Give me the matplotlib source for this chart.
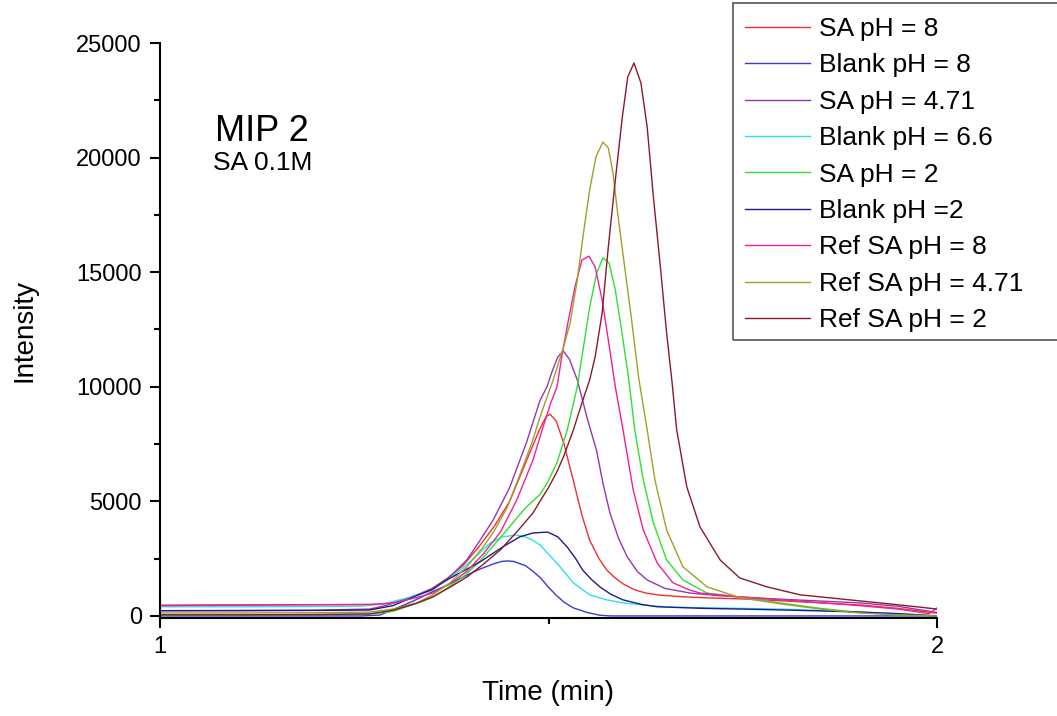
import matplotlib
matplotlib.use("Agg")
import matplotlib.pyplot as plt
from matplotlib.patches import Rectangle
from matplotlib.ticker import MultipleLocator

plt.rcParams['font.family'] = ['Liberation Sans', 'DejaVu Sans']

# Chromatogram traces: retention time (min) and detector intensity
sa_ph8_t = [1.00, 1.10, 1.20, 1.28, 1.30, 1.326, 1.35, 1.37, 1.39, 1.41, 1.43, 1.45, 1.472, 1.488,
            1.497, 1.502, 1.51, 1.52, 1.532, 1.543, 1.553, 1.565, 1.575, 1.586, 1.596, 1.61, 1.625,
            1.64, 1.67, 1.704, 1.75, 1.80, 1.85, 1.90, 1.95, 2.00]
sa_ph8_i = [470, 480, 490, 500, 580, 850, 1200, 1650, 2200, 3000, 3900, 5000, 6800, 8100,
            8700, 8800, 8500, 7500, 5900, 4400, 3300, 2500, 2000, 1650, 1400, 1150, 1000,
            920, 840, 790, 740, 660, 570, 480, 330, 120]

blank_ph8_t = [1.00, 1.10, 1.20, 1.26, 1.283, 1.305, 1.326, 1.347, 1.37, 1.39, 1.41, 1.429, 1.44,
               1.447, 1.455, 1.47, 1.48, 1.49, 1.50, 1.51, 1.52, 1.532, 1.55, 1.566, 1.58, 1.70, 2.00]
blank_ph8_i = [0, 0, 0, 0, 40, 350, 650, 1000, 1350, 1700, 2020, 2270, 2380,
               2400, 2380, 2200, 1950, 1650, 1250, 900, 600, 350, 150, 30, 0, 0, 0]

sa_ph471_t = [1.00, 1.10, 1.20, 1.27, 1.29, 1.309, 1.33, 1.351, 1.373, 1.395, 1.41, 1.429, 1.45,
              1.472, 1.489, 1.498, 1.505, 1.512, 1.519, 1.527, 1.537, 1.55, 1.562, 1.57, 1.579,
              1.59, 1.601, 1.614, 1.627, 1.65, 1.682, 1.72, 1.75, 1.80, 1.85, 1.90, 1.95, 2.00]
sa_ph471_i = [230, 240, 250, 300, 450, 650, 900, 1150, 1700, 2450, 3200, 4200, 5600,
              7600, 9400, 10000, 10700, 11300, 11560, 11200, 10300, 8600, 7200, 5800, 4500,
              3400, 2600, 1950, 1570, 1200, 1000, 880, 820, 730, 650, 570, 420, 150]

blank_ph66_t = [1.00, 1.10, 1.20, 1.26, 1.29, 1.32, 1.347, 1.37, 1.39, 1.41, 1.425, 1.44, 1.459,
                1.47, 1.48, 1.489, 1.50, 1.511, 1.522, 1.532, 1.553, 1.575, 1.596, 1.63, 1.66,
                1.75, 1.80, 1.85, 1.90, 1.95, 2.00]
blank_ph66_i = [400, 400, 410, 430, 550, 800, 1100, 1570, 2100, 2700, 3180, 3450, 3530,
                3450, 3300, 3100, 2700, 2300, 1850, 1440, 920, 700, 570, 450, 380,
                330, 300, 240, 170, 100, 0]

sa_ph2_t = [1.00, 1.10, 1.20, 1.27, 1.30, 1.326, 1.35, 1.369, 1.39, 1.412, 1.43, 1.45, 1.47,
            1.489, 1.50, 1.511, 1.524, 1.537, 1.545, 1.553, 1.562, 1.570, 1.578, 1.586, 1.594,
            1.603, 1.611, 1.622, 1.635, 1.652, 1.673, 1.704, 1.75, 1.80, 1.85, 1.90, 1.95, 2.00]
sa_ph2_i = [50, 50, 60, 80, 200, 500, 800, 1200, 1700, 2400, 3100, 3900, 4700,
            5300, 5900, 6700, 8100, 10000, 11740, 13480, 14960, 15620, 15400, 14220, 12480,
            10400, 8120, 5930, 4060, 2440, 1570, 1000, 800, 560, 330, 150, 50, 0]

blank_ph2_t = [1.00, 1.10, 1.20, 1.27, 1.30, 1.326, 1.35, 1.369, 1.39, 1.412, 1.441, 1.463, 1.48,
               1.499, 1.512, 1.524, 1.535, 1.544, 1.555, 1.566, 1.58, 1.596, 1.62, 1.64, 1.70,
               1.75, 1.80, 1.85, 1.90, 1.95, 2.00]
blank_ph2_i = [230, 230, 240, 260, 450, 830, 1150, 1570, 1950, 2360, 3010, 3450, 3620,
               3660, 3450, 3010, 2500, 2000, 1600, 1270, 950, 700, 500, 400, 330,
               300, 260, 220, 170, 100, 0]

ref_ph8_t = [1.00, 1.10, 1.20, 1.27, 1.30, 1.33, 1.351, 1.373, 1.395, 1.416, 1.438, 1.459, 1.48,
             1.493, 1.503, 1.511, 1.517, 1.525, 1.534, 1.543, 1.552, 1.56, 1.569, 1.577, 1.586,
             1.596, 1.609, 1.622, 1.64, 1.66, 1.68, 1.695, 1.75, 1.80, 1.85, 1.90, 1.95, 1.99, 2.00]
ref_ph8_i = [450, 470, 490, 500, 560, 800, 1000, 1400, 1950, 2700, 3650, 5050, 6800,
             8250, 9300, 10000, 11300, 12800, 14350, 15530, 15700, 15230, 13790, 12040, 10000,
             8100, 5500, 3750, 2300, 1450, 1150, 1000, 820, 700, 580, 450, 300, 100, 350]

ref_ph471_t = [1.00, 1.10, 1.20, 1.27, 1.30, 1.331, 1.35, 1.373, 1.395, 1.416, 1.43, 1.447, 1.467,
               1.48, 1.489, 1.506, 1.519, 1.528, 1.537, 1.545, 1.553, 1.561, 1.570, 1.577, 1.583,
               1.589, 1.598, 1.607, 1.616, 1.627, 1.637, 1.652, 1.673, 1.704, 1.746, 1.80, 1.85,
               1.90, 1.95, 2.00]
ref_ph471_i = [130, 130, 140, 170, 300, 570, 900, 1440, 2150, 3010, 3700, 4750, 6500,
               7700, 8680, 10300, 11700, 12800, 14660, 16710, 18590, 20030, 20680, 20420, 19330,
               17580, 15230, 12910, 10400, 8120, 5930, 3750, 2140, 1270, 800, 520, 300,
               130, 50, 0]

ref_ph2_t = [1.00, 1.10, 1.20, 1.27, 1.30, 1.33, 1.351, 1.373, 1.395, 1.416, 1.438, 1.46, 1.48,
             1.489, 1.50, 1.511, 1.52, 1.532, 1.545, 1.553, 1.56, 1.569, 1.577, 1.586, 1.595,
             1.602, 1.610, 1.619, 1.627, 1.635, 1.644, 1.652, 1.659, 1.665, 1.678, 1.695, 1.721,
             1.746, 1.781, 1.824, 1.888, 1.952, 2.00]
ref_ph2_i = [50, 50, 60, 90, 250, 550, 830, 1250, 1700, 2250, 2880, 3700, 4490,
             5000, 5600, 6300, 7000, 8120, 9500, 10300, 11300, 13220, 16100, 19020, 21770,
             23520, 24130, 23250, 21330, 18280, 15230, 12350, 10200, 8120, 5630, 3880, 2440,
             1660, 1270, 920, 700, 480, 300]

labels = ["SA pH = 8", "Blank pH = 8", "SA pH = 4.71", "Blank pH = 6.6", "SA pH = 2",
          "Blank pH =2", "Ref SA pH = 8", "Ref SA pH = 4.71", "Ref SA pH = 2"]
colors = ["#F03030", "#3a3ad8", "#9438b0", "#30E0E8", "#30E030",
          "#1c1c8c", "#F0209a", "#a0a028", "#8a1a2a"]
series = [(sa_ph8_t, sa_ph8_i), (blank_ph8_t, blank_ph8_i), (sa_ph471_t, sa_ph471_i),
          (blank_ph66_t, blank_ph66_i), (sa_ph2_t, sa_ph2_i), (blank_ph2_t, blank_ph2_i),
          (ref_ph8_t, ref_ph8_i), (ref_ph471_t, ref_ph471_i), (ref_ph2_t, ref_ph2_i)]

W, H = 1057, 716
fig = plt.figure(figsize=(W / 100, H / 100), dpi=100)
ax = fig.add_axes([160 / W, 1 - 618 / H, 777 / W, 575 / H])

for (t, inten), lab, col in zip(series, labels, colors):
    ax.plot(t, inten, color=col, lw=1.0, label=lab)

ax.set_xlim(1, 2)
ax.set_ylim(-90, 25000)
ax.xaxis.set_major_locator(MultipleLocator(1))
ax.xaxis.set_minor_locator(MultipleLocator(0.5))
ax.yaxis.set_major_locator(MultipleLocator(5000))
ax.yaxis.set_minor_locator(MultipleLocator(2500))
ax.set_xticks([1, 2])
ax.set_xticklabels(["1", "2"])

for side in ("top", "right"):
    ax.spines[side].set_visible(False)
for side in ("left", "bottom"):
    ax.spines[side].set_linewidth(1.5)

ax.tick_params(axis="both", which="major", direction="out", length=7, width=1.5,
               labelsize=17, pad=6)
ax.tick_params(axis="both", which="minor", direction="out", length=4.5, width=1.5)

ax.set_xlabel("Time (min)", fontsize=20, labelpad=16)
ax.set_ylabel("Intensity", fontsize=20, labelpad=28)

fig.text(262 / W, 1 - 141 / H, "MIP 2", fontsize=26, ha="center", va="baseline")
fig.text(263 / W, 1 - 170 / H, "SA 0.1M", fontsize=19, ha="center", va="baseline")

# Legend entries without frame; the box is drawn separately so it runs off the right edge
leg = fig.legend(loc="upper left", bbox_to_anchor=(745 / W, 1 - 17 / H),
                 bbox_transform=fig.transFigure, fontsize=19, frameon=False,
                 borderaxespad=0, borderpad=0, labelspacing=0.47,
                 handlelength=2.45, handletextpad=0.35)
for line in leg.get_lines():
    line.set_linewidth(1.0)

fig.patches.append(Rectangle((733 / W, 1 - 340 / H), 340 / W, 337 / H,
                             transform=fig.transFigure, fill=False,
                             edgecolor="#555555", linewidth=1.2))

fig.savefig("out.png", dpi=100)
